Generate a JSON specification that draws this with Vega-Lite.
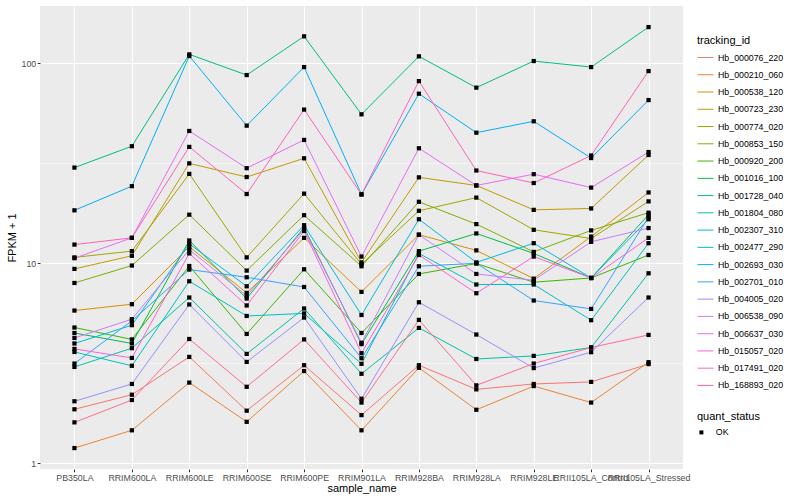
{
  "$schema": "https://vega.github.io/schema/vega-lite/v6.json",
  "width": 643,
  "height": 463,
  "autosize": "none",
  "padding": {"left": 40, "top": 6, "right": 117, "bottom": 31},
  "background": "white",
  "config": {
    "view": {"fill": "#EBEBEB", "stroke": null},
    "font": "Liberation Sans",
    "axis": {"labelFont": "Liberation Sans", "titleFont": "Liberation Sans", "labelColor": "#4D4D4D", "labelFontSize": 8.8, "titleFontSize": 11, "titleFontWeight": "normal", "titleColor": "#000000", "tickColor": "#333333", "tickSize": 2.75, "domain": false, "gridColor": "#FFFFFF"},
    "legend": {"titleFont": "Liberation Sans", "labelFont": "Liberation Sans", "titleFontSize": 11, "titleFontWeight": "normal", "titleColor": "#000000", "labelFontSize": 8.8, "labelColor": "#000000"}
  },
  "data": {"values": [
    {"tracking_id":"Hb_000076_220","sample_name":"PB350LA","FPKM_plus_1":1.86,"quant_status":"OK"},
    {"tracking_id":"Hb_000076_220","sample_name":"RRIM600LA","FPKM_plus_1":2.20,"quant_status":"OK"},
    {"tracking_id":"Hb_000076_220","sample_name":"RRIM600LE","FPKM_plus_1":3.40,"quant_status":"OK"},
    {"tracking_id":"Hb_000076_220","sample_name":"RRIM600SE","FPKM_plus_1":1.83,"quant_status":"OK"},
    {"tracking_id":"Hb_000076_220","sample_name":"RRIM600PE","FPKM_plus_1":3.09,"quant_status":"OK"},
    {"tracking_id":"Hb_000076_220","sample_name":"RRIM901LA","FPKM_plus_1":1.74,"quant_status":"OK"},
    {"tracking_id":"Hb_000076_220","sample_name":"RRIM928BA","FPKM_plus_1":3.09,"quant_status":"OK"},
    {"tracking_id":"Hb_000076_220","sample_name":"RRIM928LA","FPKM_plus_1":2.34,"quant_status":"OK"},
    {"tracking_id":"Hb_000076_220","sample_name":"RRIM928LE","FPKM_plus_1":2.49,"quant_status":"OK"},
    {"tracking_id":"Hb_000076_220","sample_name":"RRII105LA_Control","FPKM_plus_1":2.55,"quant_status":"OK"},
    {"tracking_id":"Hb_000076_220","sample_name":"RRII105LA_Stressed","FPKM_plus_1":3.13,"quant_status":"OK"},
    {"tracking_id":"Hb_000210_060","sample_name":"PB350LA","FPKM_plus_1":1.19,"quant_status":"OK"},
    {"tracking_id":"Hb_000210_060","sample_name":"RRIM600LA","FPKM_plus_1":1.46,"quant_status":"OK"},
    {"tracking_id":"Hb_000210_060","sample_name":"RRIM600LE","FPKM_plus_1":2.53,"quant_status":"OK"},
    {"tracking_id":"Hb_000210_060","sample_name":"RRIM600SE","FPKM_plus_1":1.61,"quant_status":"OK"},
    {"tracking_id":"Hb_000210_060","sample_name":"RRIM600PE","FPKM_plus_1":2.89,"quant_status":"OK"},
    {"tracking_id":"Hb_000210_060","sample_name":"RRIM901LA","FPKM_plus_1":1.46,"quant_status":"OK"},
    {"tracking_id":"Hb_000210_060","sample_name":"RRIM928BA","FPKM_plus_1":3.00,"quant_status":"OK"},
    {"tracking_id":"Hb_000210_060","sample_name":"RRIM928LA","FPKM_plus_1":1.85,"quant_status":"OK"},
    {"tracking_id":"Hb_000210_060","sample_name":"RRIM928LE","FPKM_plus_1":2.43,"quant_status":"OK"},
    {"tracking_id":"Hb_000210_060","sample_name":"RRII105LA_Control","FPKM_plus_1":2.01,"quant_status":"OK"},
    {"tracking_id":"Hb_000210_060","sample_name":"RRII105LA_Stressed","FPKM_plus_1":3.20,"quant_status":"OK"},
    {"tracking_id":"Hb_000538_120","sample_name":"PB350LA","FPKM_plus_1":5.80,"quant_status":"OK"},
    {"tracking_id":"Hb_000538_120","sample_name":"RRIM600LA","FPKM_plus_1":6.24,"quant_status":"OK"},
    {"tracking_id":"Hb_000538_120","sample_name":"RRIM600LE","FPKM_plus_1":12.1,"quant_status":"OK"},
    {"tracking_id":"Hb_000538_120","sample_name":"RRIM600SE","FPKM_plus_1":7.11,"quant_status":"OK"},
    {"tracking_id":"Hb_000538_120","sample_name":"RRIM600PE","FPKM_plus_1":13.4,"quant_status":"OK"},
    {"tracking_id":"Hb_000538_120","sample_name":"RRIM901LA","FPKM_plus_1":7.19,"quant_status":"OK"},
    {"tracking_id":"Hb_000538_120","sample_name":"RRIM928BA","FPKM_plus_1":13.9,"quant_status":"OK"},
    {"tracking_id":"Hb_000538_120","sample_name":"RRIM928LA","FPKM_plus_1":11.6,"quant_status":"OK"},
    {"tracking_id":"Hb_000538_120","sample_name":"RRIM928LE","FPKM_plus_1":8.38,"quant_status":"OK"},
    {"tracking_id":"Hb_000538_120","sample_name":"RRII105LA_Control","FPKM_plus_1":13.6,"quant_status":"OK"},
    {"tracking_id":"Hb_000538_120","sample_name":"RRII105LA_Stressed","FPKM_plus_1":22.6,"quant_status":"OK"},
    {"tracking_id":"Hb_000723_230","sample_name":"PB350LA","FPKM_plus_1":9.37,"quant_status":"OK"},
    {"tracking_id":"Hb_000723_230","sample_name":"RRIM600LA","FPKM_plus_1":10.9,"quant_status":"OK"},
    {"tracking_id":"Hb_000723_230","sample_name":"RRIM600LE","FPKM_plus_1":31.6,"quant_status":"OK"},
    {"tracking_id":"Hb_000723_230","sample_name":"RRIM600SE","FPKM_plus_1":27.0,"quant_status":"OK"},
    {"tracking_id":"Hb_000723_230","sample_name":"RRIM600PE","FPKM_plus_1":33.5,"quant_status":"OK"},
    {"tracking_id":"Hb_000723_230","sample_name":"RRIM901LA","FPKM_plus_1":10.1,"quant_status":"OK"},
    {"tracking_id":"Hb_000723_230","sample_name":"RRIM928BA","FPKM_plus_1":26.9,"quant_status":"OK"},
    {"tracking_id":"Hb_000723_230","sample_name":"RRIM928LA","FPKM_plus_1":24.5,"quant_status":"OK"},
    {"tracking_id":"Hb_000723_230","sample_name":"RRIM928LE","FPKM_plus_1":18.5,"quant_status":"OK"},
    {"tracking_id":"Hb_000723_230","sample_name":"RRII105LA_Control","FPKM_plus_1":18.8,"quant_status":"OK"},
    {"tracking_id":"Hb_000723_230","sample_name":"RRII105LA_Stressed","FPKM_plus_1":34.8,"quant_status":"OK"},
    {"tracking_id":"Hb_000774_020","sample_name":"PB350LA","FPKM_plus_1":10.7,"quant_status":"OK"},
    {"tracking_id":"Hb_000774_020","sample_name":"RRIM600LA","FPKM_plus_1":11.5,"quant_status":"OK"},
    {"tracking_id":"Hb_000774_020","sample_name":"RRIM600LE","FPKM_plus_1":28.0,"quant_status":"OK"},
    {"tracking_id":"Hb_000774_020","sample_name":"RRIM600SE","FPKM_plus_1":10.7,"quant_status":"OK"},
    {"tracking_id":"Hb_000774_020","sample_name":"RRIM600PE","FPKM_plus_1":22.3,"quant_status":"OK"},
    {"tracking_id":"Hb_000774_020","sample_name":"RRIM901LA","FPKM_plus_1":9.89,"quant_status":"OK"},
    {"tracking_id":"Hb_000774_020","sample_name":"RRIM928BA","FPKM_plus_1":18.3,"quant_status":"OK"},
    {"tracking_id":"Hb_000774_020","sample_name":"RRIM928LA","FPKM_plus_1":21.3,"quant_status":"OK"},
    {"tracking_id":"Hb_000774_020","sample_name":"RRIM928LE","FPKM_plus_1":14.7,"quant_status":"OK"},
    {"tracking_id":"Hb_000774_020","sample_name":"RRII105LA_Control","FPKM_plus_1":13.3,"quant_status":"OK"},
    {"tracking_id":"Hb_000774_020","sample_name":"RRII105LA_Stressed","FPKM_plus_1":20.4,"quant_status":"OK"},
    {"tracking_id":"Hb_000853_150","sample_name":"PB350LA","FPKM_plus_1":7.97,"quant_status":"OK"},
    {"tracking_id":"Hb_000853_150","sample_name":"RRIM600LA","FPKM_plus_1":9.74,"quant_status":"OK"},
    {"tracking_id":"Hb_000853_150","sample_name":"RRIM600LE","FPKM_plus_1":17.5,"quant_status":"OK"},
    {"tracking_id":"Hb_000853_150","sample_name":"RRIM600SE","FPKM_plus_1":9.19,"quant_status":"OK"},
    {"tracking_id":"Hb_000853_150","sample_name":"RRIM600PE","FPKM_plus_1":17.4,"quant_status":"OK"},
    {"tracking_id":"Hb_000853_150","sample_name":"RRIM901LA","FPKM_plus_1":9.66,"quant_status":"OK"},
    {"tracking_id":"Hb_000853_150","sample_name":"RRIM928BA","FPKM_plus_1":20.3,"quant_status":"OK"},
    {"tracking_id":"Hb_000853_150","sample_name":"RRIM928LA","FPKM_plus_1":15.7,"quant_status":"OK"},
    {"tracking_id":"Hb_000853_150","sample_name":"RRIM928LE","FPKM_plus_1":11.4,"quant_status":"OK"},
    {"tracking_id":"Hb_000853_150","sample_name":"RRII105LA_Control","FPKM_plus_1":14.6,"quant_status":"OK"},
    {"tracking_id":"Hb_000853_150","sample_name":"RRII105LA_Stressed","FPKM_plus_1":17.9,"quant_status":"OK"},
    {"tracking_id":"Hb_000920_200","sample_name":"PB350LA","FPKM_plus_1":4.77,"quant_status":"OK"},
    {"tracking_id":"Hb_000920_200","sample_name":"RRIM600LA","FPKM_plus_1":4.16,"quant_status":"OK"},
    {"tracking_id":"Hb_000920_200","sample_name":"RRIM600LE","FPKM_plus_1":9.69,"quant_status":"OK"},
    {"tracking_id":"Hb_000920_200","sample_name":"RRIM600SE","FPKM_plus_1":4.43,"quant_status":"OK"},
    {"tracking_id":"Hb_000920_200","sample_name":"RRIM600PE","FPKM_plus_1":9.33,"quant_status":"OK"},
    {"tracking_id":"Hb_000920_200","sample_name":"RRIM901LA","FPKM_plus_1":4.48,"quant_status":"OK"},
    {"tracking_id":"Hb_000920_200","sample_name":"RRIM928BA","FPKM_plus_1":8.84,"quant_status":"OK"},
    {"tracking_id":"Hb_000920_200","sample_name":"RRIM928LA","FPKM_plus_1":9.97,"quant_status":"OK"},
    {"tracking_id":"Hb_000920_200","sample_name":"RRIM928LE","FPKM_plus_1":8.04,"quant_status":"OK"},
    {"tracking_id":"Hb_000920_200","sample_name":"RRII105LA_Control","FPKM_plus_1":8.44,"quant_status":"OK"},
    {"tracking_id":"Hb_000920_200","sample_name":"RRII105LA_Stressed","FPKM_plus_1":11.0,"quant_status":"OK"},
    {"tracking_id":"Hb_001016_100","sample_name":"PB350LA","FPKM_plus_1":4.48,"quant_status":"OK"},
    {"tracking_id":"Hb_001016_100","sample_name":"RRIM600LA","FPKM_plus_1":3.97,"quant_status":"OK"},
    {"tracking_id":"Hb_001016_100","sample_name":"RRIM600LE","FPKM_plus_1":13.0,"quant_status":"OK"},
    {"tracking_id":"Hb_001016_100","sample_name":"RRIM600SE","FPKM_plus_1":6.66,"quant_status":"OK"},
    {"tracking_id":"Hb_001016_100","sample_name":"RRIM600PE","FPKM_plus_1":15.1,"quant_status":"OK"},
    {"tracking_id":"Hb_001016_100","sample_name":"RRIM901LA","FPKM_plus_1":3.94,"quant_status":"OK"},
    {"tracking_id":"Hb_001016_100","sample_name":"RRIM928BA","FPKM_plus_1":11.5,"quant_status":"OK"},
    {"tracking_id":"Hb_001016_100","sample_name":"RRIM928LA","FPKM_plus_1":14.1,"quant_status":"OK"},
    {"tracking_id":"Hb_001016_100","sample_name":"RRIM928LE","FPKM_plus_1":11.2,"quant_status":"OK"},
    {"tracking_id":"Hb_001016_100","sample_name":"RRII105LA_Control","FPKM_plus_1":8.44,"quant_status":"OK"},
    {"tracking_id":"Hb_001016_100","sample_name":"RRII105LA_Stressed","FPKM_plus_1":17.5,"quant_status":"OK"},
    {"tracking_id":"Hb_001728_040","sample_name":"PB350LA","FPKM_plus_1":30.1,"quant_status":"OK"},
    {"tracking_id":"Hb_001728_040","sample_name":"RRIM600LA","FPKM_plus_1":38.5,"quant_status":"OK"},
    {"tracking_id":"Hb_001728_040","sample_name":"RRIM600LE","FPKM_plus_1":110.9,"quant_status":"OK"},
    {"tracking_id":"Hb_001728_040","sample_name":"RRIM600SE","FPKM_plus_1":87.4,"quant_status":"OK"},
    {"tracking_id":"Hb_001728_040","sample_name":"RRIM600PE","FPKM_plus_1":136.5,"quant_status":"OK"},
    {"tracking_id":"Hb_001728_040","sample_name":"RRIM901LA","FPKM_plus_1":55.6,"quant_status":"OK"},
    {"tracking_id":"Hb_001728_040","sample_name":"RRIM928BA","FPKM_plus_1":108.4,"quant_status":"OK"},
    {"tracking_id":"Hb_001728_040","sample_name":"RRIM928LA","FPKM_plus_1":75.6,"quant_status":"OK"},
    {"tracking_id":"Hb_001728_040","sample_name":"RRIM928LE","FPKM_plus_1":102.7,"quant_status":"OK"},
    {"tracking_id":"Hb_001728_040","sample_name":"RRII105LA_Control","FPKM_plus_1":95.8,"quant_status":"OK"},
    {"tracking_id":"Hb_001728_040","sample_name":"RRII105LA_Stressed","FPKM_plus_1":151.9,"quant_status":"OK"},
    {"tracking_id":"Hb_001804_080","sample_name":"PB350LA","FPKM_plus_1":3.03,"quant_status":"OK"},
    {"tracking_id":"Hb_001804_080","sample_name":"RRIM600LA","FPKM_plus_1":3.76,"quant_status":"OK"},
    {"tracking_id":"Hb_001804_080","sample_name":"RRIM600LE","FPKM_plus_1":6.74,"quant_status":"OK"},
    {"tracking_id":"Hb_001804_080","sample_name":"RRIM600SE","FPKM_plus_1":3.52,"quant_status":"OK"},
    {"tracking_id":"Hb_001804_080","sample_name":"RRIM600PE","FPKM_plus_1":5.94,"quant_status":"OK"},
    {"tracking_id":"Hb_001804_080","sample_name":"RRIM901LA","FPKM_plus_1":2.80,"quant_status":"OK"},
    {"tracking_id":"Hb_001804_080","sample_name":"RRIM928BA","FPKM_plus_1":4.75,"quant_status":"OK"},
    {"tracking_id":"Hb_001804_080","sample_name":"RRIM928LA","FPKM_plus_1":3.32,"quant_status":"OK"},
    {"tracking_id":"Hb_001804_080","sample_name":"RRIM928LE","FPKM_plus_1":3.44,"quant_status":"OK"},
    {"tracking_id":"Hb_001804_080","sample_name":"RRII105LA_Control","FPKM_plus_1":3.79,"quant_status":"OK"},
    {"tracking_id":"Hb_001804_080","sample_name":"RRII105LA_Stressed","FPKM_plus_1":8.91,"quant_status":"OK"},
    {"tracking_id":"Hb_002307_310","sample_name":"PB350LA","FPKM_plus_1":3.60,"quant_status":"OK"},
    {"tracking_id":"Hb_002307_310","sample_name":"RRIM600LA","FPKM_plus_1":3.07,"quant_status":"OK"},
    {"tracking_id":"Hb_002307_310","sample_name":"RRIM600LE","FPKM_plus_1":8.13,"quant_status":"OK"},
    {"tracking_id":"Hb_002307_310","sample_name":"RRIM600SE","FPKM_plus_1":5.45,"quant_status":"OK"},
    {"tracking_id":"Hb_002307_310","sample_name":"RRIM600PE","FPKM_plus_1":5.61,"quant_status":"OK"},
    {"tracking_id":"Hb_002307_310","sample_name":"RRIM901LA","FPKM_plus_1":3.14,"quant_status":"OK"},
    {"tracking_id":"Hb_002307_310","sample_name":"RRIM928BA","FPKM_plus_1":11.2,"quant_status":"OK"},
    {"tracking_id":"Hb_002307_310","sample_name":"RRIM928LA","FPKM_plus_1":7.83,"quant_status":"OK"},
    {"tracking_id":"Hb_002307_310","sample_name":"RRIM928LE","FPKM_plus_1":7.83,"quant_status":"OK"},
    {"tracking_id":"Hb_002307_310","sample_name":"RRII105LA_Control","FPKM_plus_1":5.19,"quant_status":"OK"},
    {"tracking_id":"Hb_002307_310","sample_name":"RRII105LA_Stressed","FPKM_plus_1":12.6,"quant_status":"OK"},
    {"tracking_id":"Hb_002477_290","sample_name":"PB350LA","FPKM_plus_1":3.97,"quant_status":"OK"},
    {"tracking_id":"Hb_002477_290","sample_name":"RRIM600LA","FPKM_plus_1":4.90,"quant_status":"OK"},
    {"tracking_id":"Hb_002477_290","sample_name":"RRIM600LE","FPKM_plus_1":12.5,"quant_status":"OK"},
    {"tracking_id":"Hb_002477_290","sample_name":"RRIM600SE","FPKM_plus_1":7.67,"quant_status":"OK"},
    {"tracking_id":"Hb_002477_290","sample_name":"RRIM600PE","FPKM_plus_1":15.5,"quant_status":"OK"},
    {"tracking_id":"Hb_002477_290","sample_name":"RRIM901LA","FPKM_plus_1":5.51,"quant_status":"OK"},
    {"tracking_id":"Hb_002477_290","sample_name":"RRIM928BA","FPKM_plus_1":16.6,"quant_status":"OK"},
    {"tracking_id":"Hb_002477_290","sample_name":"RRIM928LA","FPKM_plus_1":10.1,"quant_status":"OK"},
    {"tracking_id":"Hb_002477_290","sample_name":"RRIM928LE","FPKM_plus_1":12.6,"quant_status":"OK"},
    {"tracking_id":"Hb_002477_290","sample_name":"RRII105LA_Control","FPKM_plus_1":8.44,"quant_status":"OK"},
    {"tracking_id":"Hb_002477_290","sample_name":"RRII105LA_Stressed","FPKM_plus_1":16.6,"quant_status":"OK"},
    {"tracking_id":"Hb_002693_030","sample_name":"PB350LA","FPKM_plus_1":18.4,"quant_status":"OK"},
    {"tracking_id":"Hb_002693_030","sample_name":"RRIM600LA","FPKM_plus_1":24.3,"quant_status":"OK"},
    {"tracking_id":"Hb_002693_030","sample_name":"RRIM600LE","FPKM_plus_1":108.8,"quant_status":"OK"},
    {"tracking_id":"Hb_002693_030","sample_name":"RRIM600SE","FPKM_plus_1":48.8,"quant_status":"OK"},
    {"tracking_id":"Hb_002693_030","sample_name":"RRIM600PE","FPKM_plus_1":95.8,"quant_status":"OK"},
    {"tracking_id":"Hb_002693_030","sample_name":"RRIM901LA","FPKM_plus_1":22.1,"quant_status":"OK"},
    {"tracking_id":"Hb_002693_030","sample_name":"RRIM928BA","FPKM_plus_1":70.5,"quant_status":"OK"},
    {"tracking_id":"Hb_002693_030","sample_name":"RRIM928LA","FPKM_plus_1":45.0,"quant_status":"OK"},
    {"tracking_id":"Hb_002693_030","sample_name":"RRIM928LE","FPKM_plus_1":51.3,"quant_status":"OK"},
    {"tracking_id":"Hb_002693_030","sample_name":"RRII105LA_Control","FPKM_plus_1":33.6,"quant_status":"OK"},
    {"tracking_id":"Hb_002693_030","sample_name":"RRII105LA_Stressed","FPKM_plus_1":65.5,"quant_status":"OK"},
    {"tracking_id":"Hb_002701_010","sample_name":"PB350LA","FPKM_plus_1":3.15,"quant_status":"OK"},
    {"tracking_id":"Hb_002701_010","sample_name":"RRIM600LA","FPKM_plus_1":5.15,"quant_status":"OK"},
    {"tracking_id":"Hb_002701_010","sample_name":"RRIM600LE","FPKM_plus_1":9.30,"quant_status":"OK"},
    {"tracking_id":"Hb_002701_010","sample_name":"RRIM600SE","FPKM_plus_1":8.51,"quant_status":"OK"},
    {"tracking_id":"Hb_002701_010","sample_name":"RRIM600PE","FPKM_plus_1":7.61,"quant_status":"OK"},
    {"tracking_id":"Hb_002701_010","sample_name":"RRIM901LA","FPKM_plus_1":3.35,"quant_status":"OK"},
    {"tracking_id":"Hb_002701_010","sample_name":"RRIM928BA","FPKM_plus_1":9.66,"quant_status":"OK"},
    {"tracking_id":"Hb_002701_010","sample_name":"RRIM928LA","FPKM_plus_1":10.0,"quant_status":"OK"},
    {"tracking_id":"Hb_002701_010","sample_name":"RRIM928LE","FPKM_plus_1":6.51,"quant_status":"OK"},
    {"tracking_id":"Hb_002701_010","sample_name":"RRII105LA_Control","FPKM_plus_1":5.91,"quant_status":"OK"},
    {"tracking_id":"Hb_002701_010","sample_name":"RRII105LA_Stressed","FPKM_plus_1":17.0,"quant_status":"OK"},
    {"tracking_id":"Hb_004005_020","sample_name":"PB350LA","FPKM_plus_1":2.04,"quant_status":"OK"},
    {"tracking_id":"Hb_004005_020","sample_name":"RRIM600LA","FPKM_plus_1":2.49,"quant_status":"OK"},
    {"tracking_id":"Hb_004005_020","sample_name":"RRIM600LE","FPKM_plus_1":6.22,"quant_status":"OK"},
    {"tracking_id":"Hb_004005_020","sample_name":"RRIM600SE","FPKM_plus_1":3.21,"quant_status":"OK"},
    {"tracking_id":"Hb_004005_020","sample_name":"RRIM600PE","FPKM_plus_1":5.35,"quant_status":"OK"},
    {"tracking_id":"Hb_004005_020","sample_name":"RRIM901LA","FPKM_plus_1":2.10,"quant_status":"OK"},
    {"tracking_id":"Hb_004005_020","sample_name":"RRIM928BA","FPKM_plus_1":6.38,"quant_status":"OK"},
    {"tracking_id":"Hb_004005_020","sample_name":"RRIM928LA","FPKM_plus_1":4.40,"quant_status":"OK"},
    {"tracking_id":"Hb_004005_020","sample_name":"RRIM928LE","FPKM_plus_1":2.99,"quant_status":"OK"},
    {"tracking_id":"Hb_004005_020","sample_name":"RRII105LA_Control","FPKM_plus_1":3.59,"quant_status":"OK"},
    {"tracking_id":"Hb_004005_020","sample_name":"RRII105LA_Stressed","FPKM_plus_1":6.74,"quant_status":"OK"},
    {"tracking_id":"Hb_006538_090","sample_name":"PB350LA","FPKM_plus_1":4.23,"quant_status":"OK"},
    {"tracking_id":"Hb_006538_090","sample_name":"RRIM600LA","FPKM_plus_1":5.25,"quant_status":"OK"},
    {"tracking_id":"Hb_006538_090","sample_name":"RRIM600LE","FPKM_plus_1":11.7,"quant_status":"OK"},
    {"tracking_id":"Hb_006538_090","sample_name":"RRIM600SE","FPKM_plus_1":6.88,"quant_status":"OK"},
    {"tracking_id":"Hb_006538_090","sample_name":"RRIM600PE","FPKM_plus_1":14.8,"quant_status":"OK"},
    {"tracking_id":"Hb_006538_090","sample_name":"RRIM901LA","FPKM_plus_1":4.00,"quant_status":"OK"},
    {"tracking_id":"Hb_006538_090","sample_name":"RRIM928BA","FPKM_plus_1":13.9,"quant_status":"OK"},
    {"tracking_id":"Hb_006538_090","sample_name":"RRIM928LA","FPKM_plus_1":8.84,"quant_status":"OK"},
    {"tracking_id":"Hb_006538_090","sample_name":"RRIM928LE","FPKM_plus_1":8.22,"quant_status":"OK"},
    {"tracking_id":"Hb_006538_090","sample_name":"RRII105LA_Control","FPKM_plus_1":12.8,"quant_status":"OK"},
    {"tracking_id":"Hb_006538_090","sample_name":"RRII105LA_Stressed","FPKM_plus_1":15.0,"quant_status":"OK"},
    {"tracking_id":"Hb_006637_030","sample_name":"PB350LA","FPKM_plus_1":10.6,"quant_status":"OK"},
    {"tracking_id":"Hb_006637_030","sample_name":"RRIM600LA","FPKM_plus_1":13.4,"quant_status":"OK"},
    {"tracking_id":"Hb_006637_030","sample_name":"RRIM600LE","FPKM_plus_1":45.9,"quant_status":"OK"},
    {"tracking_id":"Hb_006637_030","sample_name":"RRIM600SE","FPKM_plus_1":29.9,"quant_status":"OK"},
    {"tracking_id":"Hb_006637_030","sample_name":"RRIM600PE","FPKM_plus_1":41.4,"quant_status":"OK"},
    {"tracking_id":"Hb_006637_030","sample_name":"RRIM901LA","FPKM_plus_1":10.8,"quant_status":"OK"},
    {"tracking_id":"Hb_006637_030","sample_name":"RRIM928BA","FPKM_plus_1":37.6,"quant_status":"OK"},
    {"tracking_id":"Hb_006637_030","sample_name":"RRIM928LA","FPKM_plus_1":24.5,"quant_status":"OK"},
    {"tracking_id":"Hb_006637_030","sample_name":"RRIM928LE","FPKM_plus_1":27.9,"quant_status":"OK"},
    {"tracking_id":"Hb_006637_030","sample_name":"RRII105LA_Control","FPKM_plus_1":23.9,"quant_status":"OK"},
    {"tracking_id":"Hb_006637_030","sample_name":"RRII105LA_Stressed","FPKM_plus_1":36.0,"quant_status":"OK"},
    {"tracking_id":"Hb_015057_020","sample_name":"PB350LA","FPKM_plus_1":3.73,"quant_status":"OK"},
    {"tracking_id":"Hb_015057_020","sample_name":"RRIM600LA","FPKM_plus_1":3.36,"quant_status":"OK"},
    {"tracking_id":"Hb_015057_020","sample_name":"RRIM600LE","FPKM_plus_1":11.2,"quant_status":"OK"},
    {"tracking_id":"Hb_015057_020","sample_name":"RRIM600SE","FPKM_plus_1":6.15,"quant_status":"OK"},
    {"tracking_id":"Hb_015057_020","sample_name":"RRIM600PE","FPKM_plus_1":14.5,"quant_status":"OK"},
    {"tracking_id":"Hb_015057_020","sample_name":"RRIM901LA","FPKM_plus_1":3.55,"quant_status":"OK"},
    {"tracking_id":"Hb_015057_020","sample_name":"RRIM928BA","FPKM_plus_1":11.0,"quant_status":"OK"},
    {"tracking_id":"Hb_015057_020","sample_name":"RRIM928LA","FPKM_plus_1":7.08,"quant_status":"OK"},
    {"tracking_id":"Hb_015057_020","sample_name":"RRIM928LE","FPKM_plus_1":10.8,"quant_status":"OK"},
    {"tracking_id":"Hb_015057_020","sample_name":"RRII105LA_Control","FPKM_plus_1":8.44,"quant_status":"OK"},
    {"tracking_id":"Hb_015057_020","sample_name":"RRII105LA_Stressed","FPKM_plus_1":13.4,"quant_status":"OK"},
    {"tracking_id":"Hb_017491_020","sample_name":"PB350LA","FPKM_plus_1":12.4,"quant_status":"OK"},
    {"tracking_id":"Hb_017491_020","sample_name":"RRIM600LA","FPKM_plus_1":13.4,"quant_status":"OK"},
    {"tracking_id":"Hb_017491_020","sample_name":"RRIM600LE","FPKM_plus_1":38.2,"quant_status":"OK"},
    {"tracking_id":"Hb_017491_020","sample_name":"RRIM600SE","FPKM_plus_1":22.2,"quant_status":"OK"},
    {"tracking_id":"Hb_017491_020","sample_name":"RRIM600PE","FPKM_plus_1":58.7,"quant_status":"OK"},
    {"tracking_id":"Hb_017491_020","sample_name":"RRIM901LA","FPKM_plus_1":22.1,"quant_status":"OK"},
    {"tracking_id":"Hb_017491_020","sample_name":"RRIM928BA","FPKM_plus_1":81.5,"quant_status":"OK"},
    {"tracking_id":"Hb_017491_020","sample_name":"RRIM928LA","FPKM_plus_1":29.1,"quant_status":"OK"},
    {"tracking_id":"Hb_017491_020","sample_name":"RRIM928LE","FPKM_plus_1":25.2,"quant_status":"OK"},
    {"tracking_id":"Hb_017491_020","sample_name":"RRII105LA_Control","FPKM_plus_1":34.6,"quant_status":"OK"},
    {"tracking_id":"Hb_017491_020","sample_name":"RRII105LA_Stressed","FPKM_plus_1":91.5,"quant_status":"OK"},
    {"tracking_id":"Hb_168893_020","sample_name":"PB350LA","FPKM_plus_1":1.60,"quant_status":"OK"},
    {"tracking_id":"Hb_168893_020","sample_name":"RRIM600LA","FPKM_plus_1":2.07,"quant_status":"OK"},
    {"tracking_id":"Hb_168893_020","sample_name":"RRIM600LE","FPKM_plus_1":4.18,"quant_status":"OK"},
    {"tracking_id":"Hb_168893_020","sample_name":"RRIM600SE","FPKM_plus_1":2.41,"quant_status":"OK"},
    {"tracking_id":"Hb_168893_020","sample_name":"RRIM600PE","FPKM_plus_1":4.16,"quant_status":"OK"},
    {"tracking_id":"Hb_168893_020","sample_name":"RRIM901LA","FPKM_plus_1":2.01,"quant_status":"OK"},
    {"tracking_id":"Hb_168893_020","sample_name":"RRIM928BA","FPKM_plus_1":5.21,"quant_status":"OK"},
    {"tracking_id":"Hb_168893_020","sample_name":"RRIM928LA","FPKM_plus_1":2.45,"quant_status":"OK"},
    {"tracking_id":"Hb_168893_020","sample_name":"RRIM928LE","FPKM_plus_1":3.15,"quant_status":"OK"},
    {"tracking_id":"Hb_168893_020","sample_name":"RRII105LA_Control","FPKM_plus_1":3.79,"quant_status":"OK"},
    {"tracking_id":"Hb_168893_020","sample_name":"RRII105LA_Stressed","FPKM_plus_1":4.38,"quant_status":"OK"}
  ]},
  "encoding": {
    "x": {
      "field": "sample_name", "type": "nominal",
      "scale": {"type": "point", "padding": 0.6, "domain": ["PB350LA","RRIM600LA","RRIM600LE","RRIM600SE","RRIM600PE","RRIM901LA","RRIM928BA","RRIM928LA","RRIM928LE","RRII105LA_Control","RRII105LA_Stressed"]},
      "axis": {"title": "sample_name", "labelAngle": 0, "labelOverlap": false, "grid": true, "gridWidth": 1.07, "labelPadding": 1.5, "titlePadding": 0}
    },
    "y": {
      "field": "FPKM_plus_1", "type": "quantitative",
      "scale": {"type": "log", "domain": [0.935, 193.6], "nice": false},
      "axis": {
        "title": "FPKM + 1",
        "values": [1, 3.1623, 10, 31.623, 100],
        "labelExpr": "indexof([1,10,100], datum.value) >= 0 ? format(datum.value, 'd') : ''",
        "grid": true,
        "gridWidth": {"condition": {"test": "indexof([1,10,100], datum.value) >= 0", "value": 1.07}, "value": 0.53},
        "tickOpacity": {"condition": {"test": "indexof([1,10,100], datum.value) >= 0", "value": 1}, "value": 0},
        "labelPadding": 1.5,
        "titlePadding": 4
      }
    }
  },
  "layer": [
    {
      "mark": {"type": "line", "strokeWidth": 1},
      "encoding": {
        "color": {
          "field": "tracking_id", "type": "nominal",
          "scale": {
            "domain": ["Hb_000076_220","Hb_000210_060","Hb_000538_120","Hb_000723_230","Hb_000774_020","Hb_000853_150","Hb_000920_200","Hb_001016_100","Hb_001728_040","Hb_001804_080","Hb_002307_310","Hb_002477_290","Hb_002693_030","Hb_002701_010","Hb_004005_020","Hb_006538_090","Hb_006637_030","Hb_015057_020","Hb_017491_020","Hb_168893_020"],
            "range": ["#F8766D","#EA8331","#D89000","#C09B00","#A3A500","#7CAE00","#39B600","#00BB4E","#00BF7D","#00C1A3","#00BFC4","#00BAE0","#00B0F6","#35A2FF","#9590FF","#C77CFF","#E76BF3","#FA62DB","#FF62BC","#FF6C91"]
          },
          "legend": {"title": "tracking_id", "orient": "none", "legendX": 657, "legendY": 29, "symbolType": "stroke", "symbolSize": 256, "symbolStrokeWidth": 1, "rowPadding": 3.26, "labelOffset": 4, "titlePadding": 3}
        }
      }
    },
    {
      "mark": {"type": "point", "filled": true, "color": "#000000", "size": 18, "opacity": 1},
      "encoding": {
        "shape": {
          "field": "quant_status", "type": "nominal",
          "scale": {"range": ["square"]},
          "legend": {"title": "quant_status", "orient": "none", "legendX": 657, "legendY": 405, "symbolSize": 16, "symbolFillColor": "#000000", "symbolStrokeColor": "#000000", "labelOffset": 10, "titlePadding": 6}
        }
      }
    }
  ]
}
